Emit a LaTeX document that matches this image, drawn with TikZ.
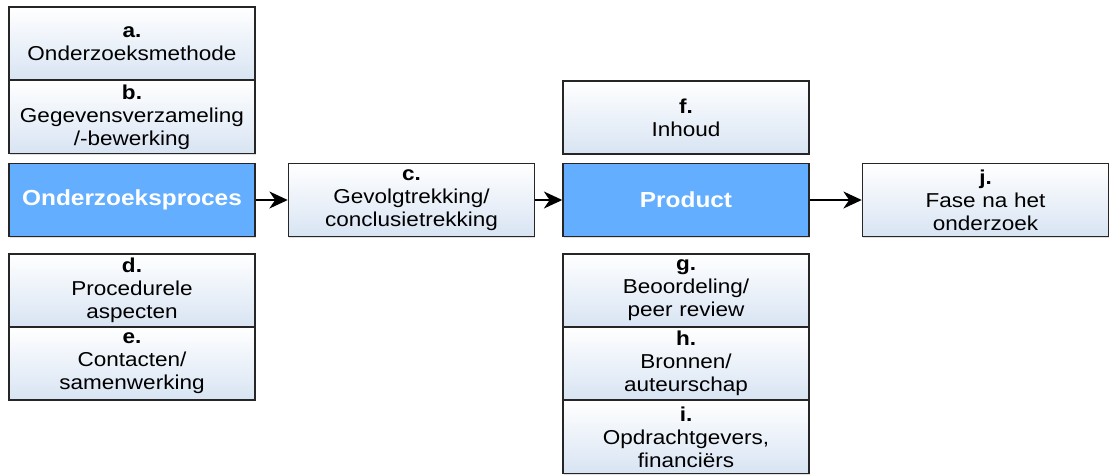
\documentclass[tikz,border=0pt]{standalone}
\usepackage{fontspec}
\setmainfont{Liberation Sans}[FakeStretch=1.12]
\usetikzlibrary{arrows.meta,shadows}
\definecolor{procblue}{RGB}{99,174,255}
\definecolor{boxlow}{RGB}{216,228,243}
\tikzset{
  blok/.style={draw=black!85, line width=1pt, minimum width=6.15cm, minimum height=1.825cm,
    text width=6cm, align=center, inner sep=0pt,
    drop shadow={opacity=0.25, shadow xshift=0.6pt, shadow yshift=-0.8pt}},
  item/.style={blok, top color=white, bottom color=boxlow, font=\fontsize{14.3}{16.4}\selectfont},
  phase/.style={blok, fill=procblue, text=white, font=\fontsize{15.5}{17}\selectfont\bfseries},
  flow/.style={-{Stealth[length=13pt,width=12pt,inset=4pt]}, line width=1.7pt}
}
\begin{document}
\begin{tikzpicture}[x=0.025cm,y=-0.025cm]
\useasboundingbox (0,0) rectangle (1109,474);
% onderzoeksproces
\node[item] (meth) at (132,43.5) {\textbf{a.}\\Onderzoeksmethode};
\node[item] (data) at (132,117) {\textbf{b.}\\Gegevensverzameling\\/-bewerking};
\node[phase] (proces) at (132,200) {Onderzoeksproces};
\node[item] (proc) at (132,290.5) {\textbf{d.}\\Procedurele\\aspecten};
\node[item] (cont) at (132,363.5) {\textbf{e.}\\Contacten/\\samenwerking};
% conclusie
\node[item] (concl) at (411.5,200) {\textbf{c.}\\Gevolgtrekking/\\conclusietrekking};
% product
\node[item] (inh) at (686,117.5) {\textbf{f.}\\Inhoud};
\node[phase] (prod) at (686,200) {Product};
\node[item] (beoord) at (686,290.5) {\textbf{g.}\\Beoordeling/\\peer review};
\node[item] (bron) at (686,363.5) {\textbf{h.}\\Bronnen/\\auteurschap};
\node[item] (opdr) at (686,437) {\textbf{i.}\\Opdrachtgevers,\\financiërs};
% na het onderzoek
\node[item] (fase) at (985.5,200) {\textbf{j.}\\Fase na het\\onderzoek};
\draw[flow] (proces) -- (concl);
\draw[flow] (concl) -- (prod);
\draw[flow] (prod) -- (fase);
\end{tikzpicture}
\end{document}
